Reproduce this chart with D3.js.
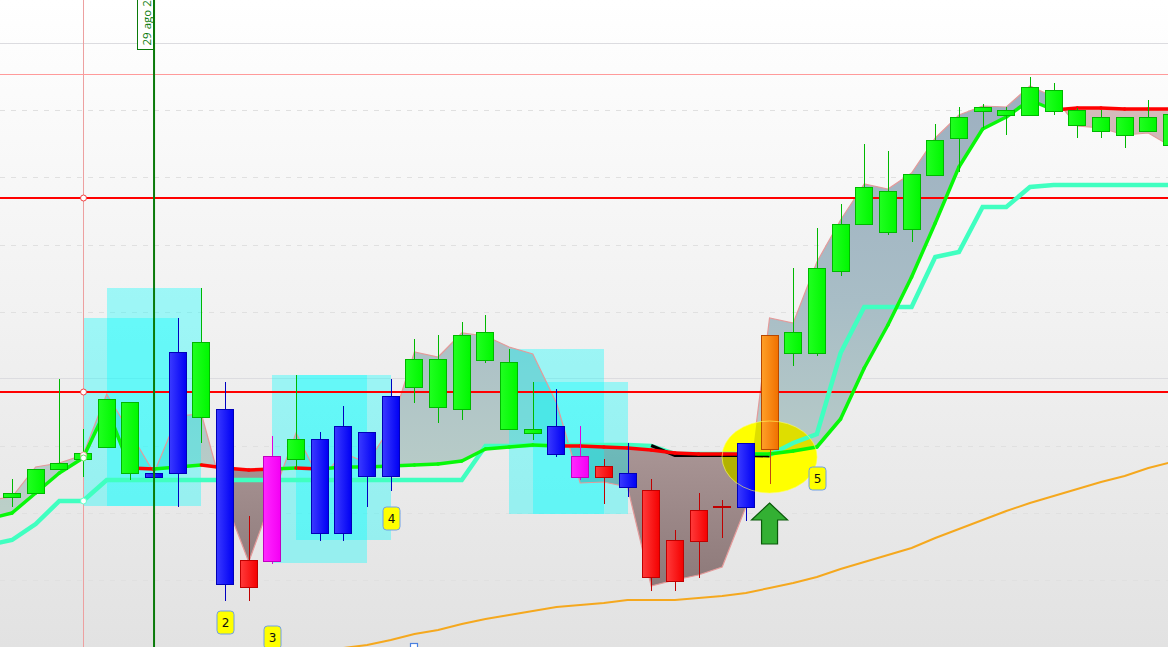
<!DOCTYPE html>
<html><head><meta charset="utf-8">
<script src="https://cdn.jsdelivr.net/npm/d3@7"></script>
<style>html,body{margin:0;padding:0;overflow:hidden;background:#fff}svg{display:block}</style>
</head><body>
<script>
// Values, in the chart's price units
const kinds = "ggggggbbgbrmgbbbbggggggbmrbrrrrbogggggggggggggggggg".slice(0,50).split("");
const bodyTop = [154,178,184,194,248,245,174,295,305,238,87,191,208,208,221,215,251,288,288,312,315,285,218,221,191,181,174,157,107,137,141,204,312,315,379,423,460,456,473,507,530,540,537,560,557,537,530,530,530,533];
const bodyBot = [150,154,178,188,200,174,170,174,230,63,60,86,188,114,114,171,171,260,240,238,287,218,214,193,170,170,160,70,66,106,140,140,198,294,294,376,423,415,418,472,509,536,532,532,536,522,516,512,516,502];
const wickHigh = [168,178,268,218,248,245,174,329,359,265,131,211,272,215,241,215,268,308,312,325,332,298,265,258,221,188,204,168,117,154,147,204,312,379,419,443,503,496,473,523,540,543,540,570,564,539,537,530,547,533];
const wickLow = [140,154,178,170,200,167,170,140,204,46,46,83,177,106,106,140,156,244,224,227,284,218,207,190,167,143,150,56,56,69,109,126,163,281,291,371,423,412,405,472,475,519,512,532,532,509,509,499,516,502];
// Line series start one bar before the first candle (index -1)
const slowLine = [128,134,154,174,189,239,179,178,180,182,179,177,178,179,178,180,180,181,182,183,186,198,200,202,201,201,200,199,197,194,193,193,193,193,196,200,228,279,322,370,424,480,518,530,547,537,539,539,538,538,538];
const slowDir = "ggggggrggrrrgrggggggggggrrrrrrrrgggggggggggggrrrrr".split("");
const supportLine = [102,107,123,146,146,167,167,167,167,167,167,167,167,167,167,167,167,167,167,167,167,201,201,202,202,202,202,202,201,193,193,193,193,192,204,213,294,340,340,340,390,395,440,440,460,462,462,462,462,462,462];
const fastLine = [147,150,180,184,192,253,214,174,231,233,147,85,150,214,167,194,184,220,295,290,314,311,300,293,244,164,165,160,61,67,72,80,140,329,324,385,427,463,458,474,509,532,541,540,561,550,521,519,512,514,500];
const longLine = [-1,2,7,13,17,23,28,32,36,40,42,44,47,47,47,49,51,54,59,64,70,78,85,92,99,109,118,127,136,144,151,158,165,171,179,185];
const longStart = 14;
const blackLine = [201.5,191.5,191.5,191.5,191.5,191];
const blackStart = 27;
const redLevels = [449,255];
const paleLevels = [573];
const solidGrid = [604,269];
const dashGrid = [537,470,402,335,201,134,67];
const boxes = [[3,7,329,141],[4,8,359,141],[11,15,272,84],[12,16,272,107],[21,25,298,133],[22,26,265,133]];
const badges = [{t:"2",i:9,p:25},{t:"3",i:11,p:10},{t:"4",i:16,p:129},{t:"5",i:34,p:169}];
const dateLabel = "29 ago 2";
const cursorBar = 3, selectedBar = 6, circleBar = 32;

const W = 1168, H = 647;
const x = d3.scaleLinear().domain([0,49]).range([12,1172]);
const y = d3.scaleLinear().domain([0,647]).range([647,0]);
const svg = d3.select("body").append("svg").attr("width",W).attr("height",H);
const defs = svg.append("defs");

function lin(id,x1,y1,x2,y2,stops,user){
  const g = defs.append("linearGradient").attr("id",id).attr("x1",x1).attr("y1",y1).attr("x2",x2).attr("y2",y2);
  if(user) g.attr("gradientUnits","userSpaceOnUse");
  stops.forEach(s=>g.append("stop").attr("offset",s[0]).attr("stop-color",s[1]));
}
lin("bg",0,0,0,1,[[0,"#ffffff"],[.5,"#f1f1f1"],[1,"#e2e2e2"]]);
lin("above",0,80,0,520,[[0,"#9dafc0"],[.5,"#a8bdc6"],[1,"#bcd0c8"]],true);
lin("below",0,100,0,590,[[0,"#d6bcbc"],[.72,"#a89494"],[1,"#8c7878"]],true);
const palette = {
  g:{a:"#20ff20",b:"#00f800",s:"#00b800",w:"#00b800"},
  b:{a:"#3a3aff",b:"#0000f4",s:"#0000b8",w:"#0000c0"},
  r:{a:"#ff3a3a",b:"#f40000",s:"#c00000",w:"#c00000"},
  m:{a:"#ff28ff",b:"#f400f4",s:"#c000c0",w:"#e000e0"},
  o:{a:"#ffa028",b:"#f07000",s:"#b84800",w:"#c04810"}
};
Object.keys(palette).forEach(k=>lin("c"+k,0,0,1,0,[[0,palette[k].a],[1,palette[k].b]]));

svg.append("rect").attr("width",W).attr("height",H).attr("fill","url(#bg)");

// Grid
svg.append("g").selectAll("line").data(dashGrid).join("line")
  .attr("x1",0).attr("x2",W).attr("y1",d=>y(d)+.5).attr("y2",d=>y(d)+.5)
  .attr("stroke","#e0e0e0").attr("stroke-dasharray","5 6");
svg.append("g").selectAll("line").data(solidGrid).join("line")
  .attr("x1",0).attr("x2",W).attr("y1",d=>y(d)+.5).attr("y2",d=>y(d)+.5)
  .attr("stroke","#dcdce0");

// Cloud between fast and slow lines
const idx = fastLine.map((_,k)=>k-1);
const band = d3.area().x(i=>x(i)).y0(i=>y(fastLine[i+1])).y1(i=>y(slowLine[i+1]));
defs.append("clipPath").attr("id","clipAbove").append("path")
  .attr("d",d3.area().x(i=>x(i)).y0(0).y1(i=>y(slowLine[i+1]))(idx));
defs.append("clipPath").attr("id","clipBelow").append("path")
  .attr("d",d3.area().x(i=>x(i)).y0(H).y1(i=>y(slowLine[i+1]))(idx));
svg.append("path").attr("d",band(idx)).attr("fill","url(#above)").attr("clip-path","url(#clipAbove)");
svg.append("path").attr("d",band(idx)).attr("fill","url(#below)").attr("clip-path","url(#clipBelow)");

// Zone boxes
svg.append("g").selectAll("rect").data(boxes).join("rect")
  .attr("x",d=>Math.round(x(d[0]))).attr("width",d=>Math.round(x(d[1]))-Math.round(x(d[0])))
  .attr("y",d=>y(d[2])).attr("height",d=>y(d[3])-y(d[2]))
  .attr("fill","#00ffff").attr("fill-opacity",.35);

const line = d3.line().x(i=>x(i));
svg.append("path").attr("d",line.y(i=>y(fastLine[i+1]))(idx))
  .attr("fill","none").attr("stroke","#e49a9a").attr("stroke-width",1.2);

// Highlight ellipse
const ex = x(circleBar), ey = y(190), erx = 47.5, ery = 36;
svg.append("ellipse").attr("cx",ex).attr("cy",ey).attr("rx",erx).attr("ry",ery).attr("fill","#ffff00");
defs.append("clipPath").attr("id","clipEll").append("ellipse").attr("cx",ex).attr("cy",ey).attr("rx",erx).attr("ry",ery);
const tint = svg.append("g").attr("clip-path","url(#clipEll)");
tint.append("path").attr("d",band(idx)).attr("fill","#000").attr("fill-opacity",.13).attr("clip-path","url(#clipAbove)");
tint.append("path").attr("d",band(idx)).attr("fill","#000").attr("fill-opacity",.3).attr("clip-path","url(#clipBelow)");

// Levels and cursor
svg.append("line").attr("x1",Math.round(x(cursorBar))+.5).attr("x2",Math.round(x(cursorBar))+.5).attr("y1",0).attr("y2",H)
  .attr("stroke","#eda0a0");
svg.append("g").selectAll("line").data(paleLevels).join("line")
  .attr("x1",0).attr("x2",W).attr("y1",d=>y(d)+.5).attr("y2",d=>y(d)+.5).attr("stroke","#ff9a9a");
svg.append("g").selectAll("line").data(redLevels).join("line")
  .attr("x1",0).attr("x2",W).attr("y1",d=>y(d)).attr("y2",d=>y(d)).attr("stroke","#ff0000").attr("stroke-width",2);

// Lines
svg.append("path").attr("d",d3.line().x((d,k)=>x(k+longStart)).y(d=>y(d))(longLine))
  .attr("fill","none").attr("stroke","#f5a81e").attr("stroke-width",2);
svg.append("path").attr("d",line.y(i=>y(supportLine[i+1]))(idx))
  .attr("fill","none").attr("stroke","#40ffc0").attr("stroke-width",4.5).attr("stroke-linejoin","miter");
svg.append("path").attr("d",d3.line().x((d,k)=>x(k+blackStart)).y(d=>y(d))(blackLine))
  .attr("fill","none").attr("stroke","#000").attr("stroke-width",3);
svg.append("g").selectAll("line").data(slowDir.map((c,k)=>({c,i:k-1}))).join("line")
  .attr("x1",d=>x(d.i)).attr("x2",d=>x(d.i+1))
  .attr("y1",d=>y(slowLine[d.i+1])).attr("y2",d=>y(slowLine[d.i+2]))
  .attr("stroke",d=>d.c==="g"?"#08f808":"#ff0000").attr("stroke-width",3.5).attr("stroke-linecap","round");

// Marker circles on the cursor bar
const dots = [[y(redLevels[0]),"#f04040"],[y(redLevels[1]),"#f04040"],[y(fastLine[cursorBar+1]),"#f0a0a0"],[y(slowLine[cursorBar+1]),"#60e060"],[y(supportLine[cursorBar+1]),"#60ffc8"]];

// Candles
const bars = svg.append("g").selectAll("g").data(kinds.map((k,i)=>({k,i}))).join("g");
bars.append("line").attr("x1",d=>Math.round(x(d.i))+.5).attr("x2",d=>Math.round(x(d.i))+.5)
  .attr("y1",d=>y(wickHigh[d.i])).attr("y2",d=>y(wickLow[d.i]))
  .attr("stroke",d=>palette[d.k].w).attr("stroke-width",1);
bars.append("rect").attr("x",d=>Math.round(x(d.i))-8.5).attr("width",17)
  .attr("y",d=>y(bodyTop[d.i])+.5).attr("height",d=>Math.max(1,y(bodyBot[d.i])-y(bodyTop[d.i])))
  .attr("fill",d=>`url(#c${d.k})`).attr("stroke",d=>palette[d.k].s).attr("stroke-width",1);

// Circles after candles
svg.append("g").selectAll("circle").data(dots).join("circle")
  .attr("cx",Math.round(x(cursorBar))+.5).attr("cy",d=>d[0]).attr("r",3)
  .attr("fill","#fff").attr("stroke",d=>d[1]).attr("stroke-width",1);

// Ellipse outline above candles
svg.append("ellipse").attr("cx",ex).attr("cy",ey).attr("rx",erx).attr("ry",ery)
  .attr("fill","none").attr("stroke","#ffff60").attr("stroke-opacity",.6).attr("stroke-width",1);

// Arrow
const ax = x(circleBar), aw = 18, sw = 8;
const arrowPts = [[ax,y(144)],[ax+aw,y(127)],[ax+sw,y(127)],[ax+sw,y(103)],[ax-sw,y(103)],[ax-sw,y(127)],[ax-aw,y(127)]];
svg.append("polygon").attr("points",arrowPts.map(p=>p.join(",")).join(" "))
  .attr("fill","#33b033").attr("stroke","#0a5a0a").attr("stroke-width",1.2);

// Badges
const bd = svg.append("g").selectAll("g").data(badges).join("g")
  .attr("transform",d=>`translate(${Math.round(x(d.i))+.5},${y(d.p)+.5})`);
bd.append("rect").attr("x",-8.5).attr("y",-11.5).attr("width",17).attr("height",23).attr("rx",3.5)
  .attr("fill","#ffff00").attr("stroke","#6f9fe8");
bd.append("text").text(d=>d.t).attr("text-anchor","middle").attr("y",4.5)
  .attr("font-family","'DejaVu Sans',sans-serif").attr("font-size",12).attr("fill","#111");

// Small icon at the bottom edge
svg.append("rect").attr("x",410.5).attr("y",643.5).attr("width",7).attr("height",6)
  .attr("fill","#fff").attr("stroke","#4a80e0").attr("stroke-width",1.2);

// Selected date cursor
svg.append("rect").attr("x",137.5).attr("y",-2).attr("width",16).attr("height",51.5)
  .attr("fill","#fff").attr("stroke","#0a7a0a");
svg.append("line").attr("x1",x(selectedBar)).attr("x2",x(selectedBar)).attr("y1",0).attr("y2",H)
  .attr("stroke","#0a7a0a").attr("stroke-width",2);
svg.append("text").text(dateLabel).attr("transform","translate(151,45.5) rotate(-90)")
  .attr("font-family","'Open Sans',sans-serif").attr("font-size",11.5).attr("fill","#0a7a0a");
</script>
</body></html>
